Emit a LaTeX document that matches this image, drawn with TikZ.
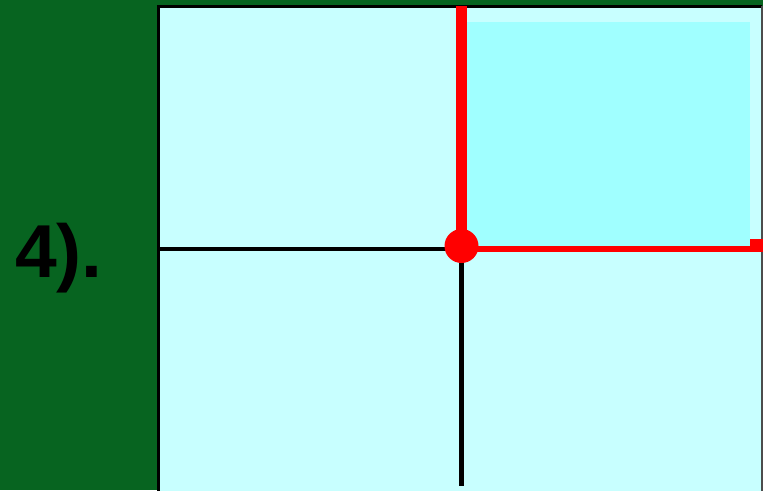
\documentclass[tikz,border=0pt]{standalone}
\usepackage{fontspec}
\setmainfont{Liberation Sans}
\definecolor{bggreen}{RGB}{7,100,32}
\definecolor{panelcyan}{RGB}{200,255,255}
\definecolor{hicyan}{RGB}{160,255,255}
\definecolor{hired}{RGB}{255,0,0}
\tikzset{
  gridline/.style={draw=black,line width=4pt},
  redline/.style={draw=hired,line width=6.5pt},
  label4/.style={font=\bfseries\fontsize{75}{80}\selectfont,text=black,inner sep=0pt,anchor=base west}
}
\begin{document}
\begin{tikzpicture}[x=1pt,y=-1pt]
\useasboundingbox (0,0) rectangle (763,490);
\fill[bggreen] (0,0) rectangle (763,490);
% panel
\fill[panelcyan] (158,6) rectangle (762,495);
\draw[black,line width=3pt] (158,495) -- (158,6) -- (762,6);
\draw[black!70,line width=1.5pt] (762,6) -- (762,495);
% highlighted quadrant
\fill[hicyan] (466,22) rectangle (750,248);
% grid lines
\coordinate (L) at (158,249);
\coordinate (C) at (461.7,249);
\coordinate (B) at (461.7,486);
\coordinate (T) at (461.7,6);
\coordinate (R) at (756,249);
\draw[gridline] (L) -- (C);
\draw[gridline,line width=4.8pt] (C) -- (B);
% red outline
\draw[redline,line width=10.5pt] (T) -- (C);
\draw[redline] (C) -- (R);
\fill[hired] (750,239) rectangle (763,252);
\fill[hired] (461.5,246) circle (17);
% label
\node[label4] (lbl) at (15,277) {4).};
\end{tikzpicture}
\end{document}
